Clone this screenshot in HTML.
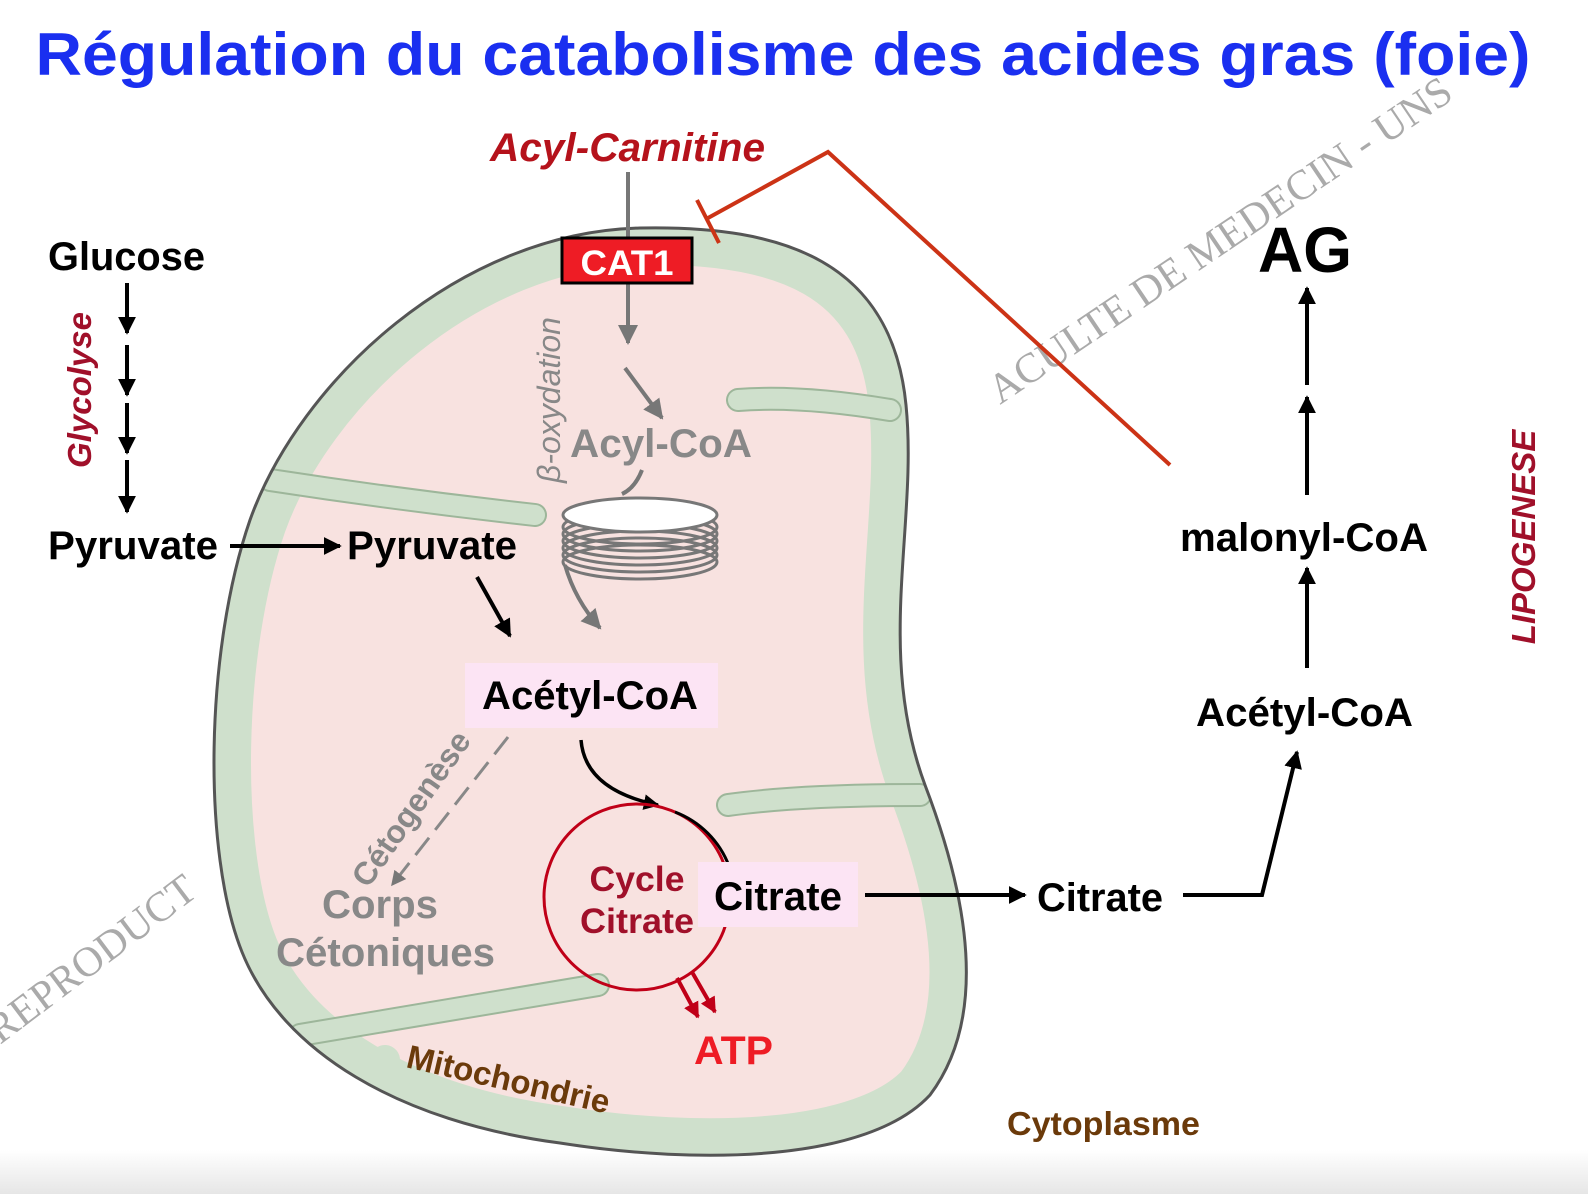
<!DOCTYPE html>
<html><head><meta charset="utf-8"><style>
html,body{margin:0;padding:0;background:#fff}
svg{display:block}
text{font-family:"Liberation Sans",Arial,sans-serif;font-weight:bold}
</style></head><body>
<svg width="1588" height="1194" viewBox="0 0 1588 1194" xmlns="http://www.w3.org/2000/svg">
<defs>
<linearGradient id="bg" x1="0" y1="0" x2="0" y2="1"><stop offset="0" stop-color="#fff"/><stop offset="1" stop-color="#e6e6e6"/></linearGradient>
<path id="mito" d="M640,228 C785,225 892,262 906,405 C918,525 875,650 925,785 C967,895 990,1015 930,1095 C868,1162 700,1165 560,1143 C400,1122 282,1052 242,952 C202,852 205,650 250,520 C300,380 460,232 640,228 Z"/>
<clipPath id="mc"><use href="#mito"/></clipPath>
<marker id="ab" viewBox="0 0 10 10" refX="9" refY="5" markerWidth="4.5" markerHeight="4.5" orient="auto-start-reverse"><path d="M0,0 L10,5 L0,10 Z" fill="#000"/></marker>
<marker id="ag" viewBox="0 0 10 10" refX="9" refY="5" markerWidth="5" markerHeight="5" orient="auto"><path d="M0,0 L10,5 L0,10 Z" fill="#777"/></marker>
<marker id="ar" viewBox="0 0 10 10" refX="9" refY="5" markerWidth="4" markerHeight="4" orient="auto"><path d="M0,0 L10,5 L0,10 Z" fill="#c00018"/></marker>
</defs>
<rect x="0" y="1150" width="1588" height="44" fill="url(#bg)"/>
<text x="783" y="75" font-size="60" fill="#1a2ff0" text-anchor="middle" textLength="1495" lengthAdjust="spacingAndGlyphs">Régulation du catabolisme des acides gras (foie)</text>

<use href="#mito" fill="#f8e2e0"/>
<g clip-path="url(#mc)">
<use href="#mito" fill="none" stroke="#cfe0cc" stroke-width="74"/>
<g stroke-linecap="round" fill="none">
<path d="M270,480 Q400,500 535,515" stroke="#9db69a" stroke-width="24"/>
<path d="M270,480 Q400,500 535,515" stroke="#cfe0cc" stroke-width="20"/>
<path d="M738,400 Q800,395 890,410" stroke="#9db69a" stroke-width="24"/>
<path d="M738,400 Q800,395 890,410" stroke="#cfe0cc" stroke-width="20"/>
<path d="M728,805 Q800,795 920,795" stroke="#9db69a" stroke-width="24"/>
<path d="M728,805 Q800,795 920,795" stroke="#cfe0cc" stroke-width="20"/>
<path d="M300,1035 Q450,1010 598,985" stroke="#9db69a" stroke-width="24"/>
<path d="M300,1035 Q450,1010 598,985" stroke="#cfe0cc" stroke-width="20"/>
<path d="M385,1060 Q380,1130 600,1150" stroke="#cfe0cc" stroke-width="30"/>
</g>
</g>
<use href="#mito" fill="none" stroke="#555" stroke-width="3"/>

<text x="1000" y="405" font-size="42" fill="#aaa" transform="rotate(-34 1000 405)" style="font-family:'Liberation Serif',serif;font-weight:normal">ACULTE DE MEDECIN - UNS</text>
<text x="0" y="1045" font-size="42" fill="#aaa" transform="rotate(-37 0 1045)" style="font-family:'Liberation Serif',serif;font-weight:normal">REPRODUCT</text>

<text x="490" y="161" font-size="40" font-style="italic" fill="#b5121b" textLength="275" lengthAdjust="spacingAndGlyphs">Acyl-Carnitine</text>
<line x1="628" y1="172" x2="628" y2="343" stroke="#777" stroke-width="4" marker-end="url(#ag)"/>
<rect x="562" y="238" width="130" height="45" fill="#ee1c25" stroke="#000" stroke-width="3"/>
<text x="627" y="275" font-size="35" fill="#fff" text-anchor="middle" textLength="93" lengthAdjust="spacingAndGlyphs">CAT1</text>
<polyline points="1170,465 828,152 708,218" fill="none" stroke="#cc3316" stroke-width="4"/>
<line x1="697" y1="200" x2="719" y2="243" stroke="#cc3316" stroke-width="4"/>

<text x="48" y="270" font-size="40" textLength="157" lengthAdjust="spacingAndGlyphs">Glucose</text>
<g stroke="#000" stroke-width="4" marker-end="url(#ab)">
<line x1="127" y1="283" x2="127" y2="333"/><line x1="127" y1="345" x2="127" y2="395"/>
<line x1="127" y1="403" x2="127" y2="453"/><line x1="127" y1="460" x2="127" y2="512"/>
<line x1="230" y1="546" x2="340" y2="546"/>
<line x1="477" y1="577" x2="510" y2="636"/>
</g>
<text x="0" y="0" font-size="33" font-style="italic" fill="#a0102a" text-anchor="middle" transform="translate(91 390) rotate(-90)">Glycolyse</text>
<text x="48" y="559" font-size="40" textLength="170" lengthAdjust="spacingAndGlyphs">Pyruvate</text>
<text x="347" y="559" font-size="40" textLength="170" lengthAdjust="spacingAndGlyphs">Pyruvate</text>

<text x="0" y="0" font-size="32" font-style="italic" fill="#888" text-anchor="middle" transform="translate(560 400) rotate(-90)" style="font-weight:normal">β-oxydation</text>
<line x1="625" y1="368" x2="662" y2="418" stroke="#777" stroke-width="4" marker-end="url(#ag)"/>
<text x="570" y="457" font-size="40" fill="#888" textLength="182" lengthAdjust="spacingAndGlyphs">Acyl-CoA</text>
<path d="M642,470 Q635,488 622,494" fill="none" stroke="#777" stroke-width="4"/>
<g fill="none" stroke="#777" stroke-width="3">
<ellipse cx="640" cy="562" rx="77" ry="17"/><ellipse cx="640" cy="555" rx="77" ry="17"/>
<ellipse cx="640" cy="548" rx="77" ry="17"/><ellipse cx="640" cy="541" rx="77" ry="17"/>
<ellipse cx="640" cy="534" rx="77" ry="17"/><ellipse cx="640" cy="527" rx="77" ry="17"/>
</g>
<ellipse cx="640" cy="515" rx="77" ry="17" fill="#fff" stroke="#777" stroke-width="3"/>
<path d="M565,565 Q575,600 600,628" fill="none" stroke="#777" stroke-width="4" marker-end="url(#ag)"/>

<rect x="465" y="663" width="253" height="65" fill="#fce4f4"/>
<text x="482" y="709" font-size="40" textLength="216" lengthAdjust="spacingAndGlyphs">Acétyl-CoA</text>
<line x1="508" y1="737" x2="392" y2="885" stroke="#888" stroke-width="3" stroke-dasharray="22,10" marker-end="url(#ag)"/>
<text x="0" y="0" font-size="32" fill="#888" text-anchor="middle" transform="translate(420 815) rotate(-55)">Cétogenèse</text>
<text x="322" y="918" font-size="40" fill="#888" textLength="116" lengthAdjust="spacingAndGlyphs">Corps</text>
<text x="276" y="966" font-size="40" fill="#888" textLength="219" lengthAdjust="spacingAndGlyphs">Cétoniques</text>
<path d="M581,740 Q585,790 658,805" fill="none" stroke="#000" stroke-width="3.5" marker-end="url(#ab)"/>
<circle cx="637" cy="897" r="93" fill="none" stroke="#c00018" stroke-width="3"/>
<path d="M675,812 A93,93 0 0 1 729,866" fill="none" stroke="#000" stroke-width="3"/>
<text x="637" y="891" font-size="35" fill="#a0102a" text-anchor="middle" textLength="95" lengthAdjust="spacingAndGlyphs">Cycle</text>
<text x="637" y="933" font-size="35" fill="#a0102a" text-anchor="middle" textLength="114" lengthAdjust="spacingAndGlyphs">Citrate</text>
<rect x="698" y="862" width="160" height="65" fill="#fce4f4"/>
<text x="714" y="910" font-size="40" textLength="128" lengthAdjust="spacingAndGlyphs">Citrate</text>
<g stroke="#c00018" stroke-width="4" fill="none">
<line x1="677" y1="978" x2="698" y2="1017" marker-end="url(#ar)"/>
<line x1="692" y1="972" x2="715" y2="1012" marker-end="url(#ar)"/>
</g>
<text x="694" y="1064" font-size="40" fill="#ee1c25" textLength="79" lengthAdjust="spacingAndGlyphs">ATP</text>
<text x="405" y="1067" font-size="33" fill="#6b3a0a" transform="rotate(13 405 1067)">Mitochondrie</text>
<text x="1007" y="1135" font-size="33" fill="#6b3a0a" textLength="193" lengthAdjust="spacingAndGlyphs">Cytoplasme</text>

<g stroke="#000" stroke-width="4" fill="none" marker-end="url(#ab)">
<line x1="865" y1="895" x2="1025" y2="895"/>
<polyline points="1183,895 1262,895 1297,752"/>
<line x1="1307" y1="668" x2="1307" y2="568"/>
<line x1="1307" y1="495" x2="1307" y2="397"/>
<line x1="1307" y1="385" x2="1307" y2="288"/>
</g>
<text x="1037" y="911" font-size="40" textLength="126" lengthAdjust="spacingAndGlyphs">Citrate</text>
<text x="1196" y="726" font-size="40" textLength="217" lengthAdjust="spacingAndGlyphs">Acétyl-CoA</text>
<text x="1180" y="551" font-size="40" textLength="248" lengthAdjust="spacingAndGlyphs">malonyl-CoA</text>
<text x="1258" y="272" font-size="64" textLength="94" lengthAdjust="spacingAndGlyphs">AG</text>
<text x="0" y="0" font-size="33" font-style="italic" fill="#a0102a" text-anchor="middle" transform="translate(1535 537) rotate(-90)">LIPOGENESE</text>
</svg>
</body></html>
